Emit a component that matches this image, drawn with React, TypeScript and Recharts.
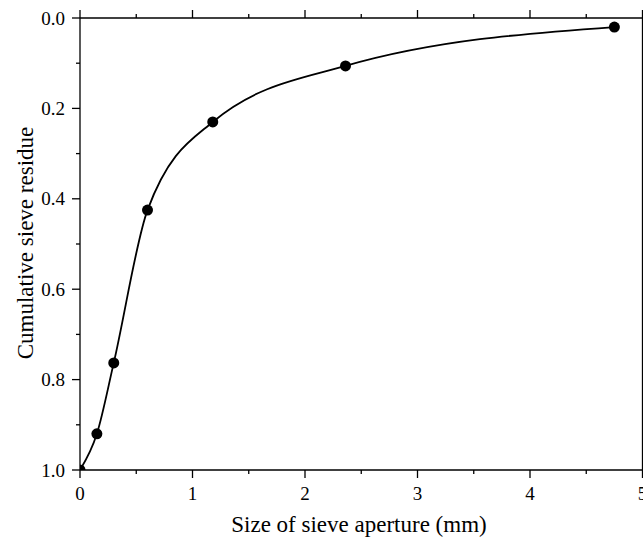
import { LineChart, Line, XAxis, YAxis, Label } from 'recharts';

const apertures = [0, 0.15, 0.3, 0.6, 1.18, 2.36, 4.75];
const residues = [1.0, 0.92, 0.763, 0.425, 0.23, 0.106, 0.02];

const xTicks = [0, 0.5, 1, 1.5, 2, 2.5, 3, 3.5, 4, 4.5, 5];
const yTicks = [0, 0.1, 0.2, 0.3, 0.4, 0.5, 0.6, 0.7, 0.8, 0.9, 1.0];
const yLabels = ['0.0', '0.2', '0.4', '0.6', '0.8', '1.0'];

const data = apertures.map((size, i) => ({ size, residue: residues[i] }));

const FONT = '"Liberation Serif", "Times New Roman", serif';
const isMajorX = (v: number) => Number.isInteger(v);
const isMajorY = (v: number) => Math.round(v * 10) % 2 === 0;

const BottomTick = ({ x, y, payload }: any) => {
  const major = isMajorX(payload.value);
  return (
    <g>
      <line x1={x} x2={x} y1={y} y2={y + (major ? 8 : 4)} stroke="#000" strokeWidth={1.3} />
      {major && (
        <text x={x} y={y + 30} textAnchor="middle" fontSize={19} fontFamily={FONT} fill="#000">
          {payload.value}
        </text>
      )}
    </g>
  );
};

const TopTick = ({ x, y, payload }: any) => {
  const major = isMajorX(payload.value);
  return <line x1={x} x2={x} y1={y} y2={y - (major ? 8 : 4)} stroke="#000" strokeWidth={1.3} />;
};

const LeftTick = ({ x, y, payload }: any) => {
  const major = isMajorY(payload.value);
  const label = yLabels.find((l) => Math.abs(Number(l) - payload.value) < 1e-6);
  return (
    <g>
      <line x1={x} x2={x - (major ? 8 : 4)} y1={y} y2={y} stroke="#000" strokeWidth={1.3} />
      {major && label && (
        <text x={x - 15} y={y + 6.5} textAnchor="end" fontSize={19} fontFamily={FONT} fill="#000">
          {label}
        </text>
      )}
    </g>
  );
};

export default function App() {
  return (
    <div style={{ position: 'absolute', left: 0, top: 0, width: 643, height: 541, overflow: 'hidden', background: '#fff' }}>
      <LineChart
        width={644}
        height={541}
        data={data}
        margin={{ top: 8, right: 0, left: 0, bottom: 0 }}
      >
        <XAxis
          xAxisId="bottom"
          dataKey="size"
          type="number"
          domain={[0, 5]}
          ticks={xTicks}
          allowDataOverflow
          height={71}
          tickSize={0}
          tickMargin={0}
          tickLine={false}
          tick={<BottomTick />}
          interval={0}
          axisLine={{ stroke: '#000', strokeWidth: 1.3 }}
        >
          <Label
            content={() => (
              <text x={359} y={532} textAnchor="middle" fontSize={23} fontFamily={FONT} fill="#000">
                Size of sieve aperture (mm)
              </text>
            )}
          />
        </XAxis>
        <XAxis
          xAxisId="top"
          orientation="top"
          dataKey="size"
          type="number"
          domain={[0, 5]}
          ticks={xTicks}
          allowDataOverflow
          height={10}
          tickSize={0}
          tickMargin={0}
          tickLine={false}
          tick={<TopTick />}
          interval={0}
          axisLine={{ stroke: '#000', strokeWidth: 1.3 }}
        />
        <YAxis
          yAxisId="left"
          type="number"
          domain={[0, 1]}
          reversed
          ticks={yTicks}
          allowDataOverflow
          width={80}
          tickSize={0}
          tickMargin={0}
          tickLine={false}
          tick={<LeftTick />}
          interval={0}
          axisLine={{ stroke: '#000', strokeWidth: 1.3 }}
        >
          <Label
            content={() => (
              <text
                transform="translate(33,243) rotate(-90)"
                textAnchor="middle"
                fontSize={23}
                fontFamily={FONT}
                fill="#000"
              >
                Cumulative sieve residue
              </text>
            )}
          />
        </YAxis>
        <YAxis
          yAxisId="right"
          orientation="right"
          type="number"
          domain={[0, 1]}
          reversed
          allowDataOverflow
          width={1.5}
          tick={false}
          tickLine={false}
          axisLine={{ stroke: '#000', strokeWidth: 1.3 }}
        />
        <Line
          xAxisId="bottom"
          yAxisId="left"
          type="monotone"
          dataKey="residue"
          stroke="#000"
          strokeWidth={1.8}
          dot={{ r: 5.5, fill: '#000', stroke: '#000', strokeWidth: 0 }}
          isAnimationActive={false}
        />
      </LineChart>
    </div>
  );
}
